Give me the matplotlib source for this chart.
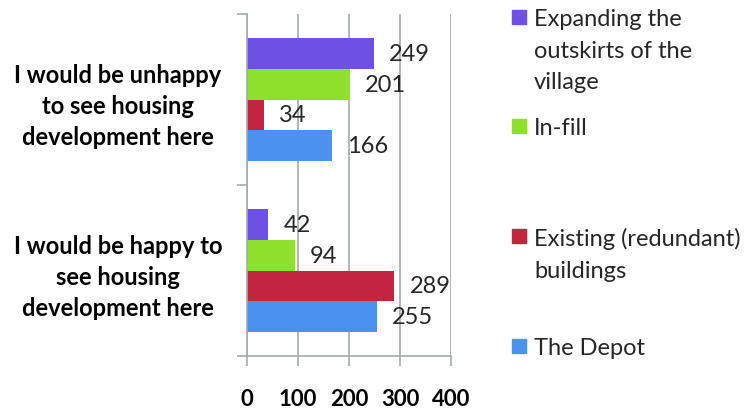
import matplotlib.pyplot as plt
from matplotlib.patches import Rectangle

categories = ["I would be happy to\nsee housing\ndevelopment here",
              "I would be unhappy\nto see housing\ndevelopment here"]
series = ["The Depot", "Existing (redundant)\nbuildings", "In-fill",
          "Expanding the\noutskirts of the\nvillage"]
depot = [255, 166]
existing = [289, 34]
infill = [94, 201]
outskirts = [42, 249]
colors = ["#4A92EE", "#C2253E", "#8EE02A", "#6F50E5"]

plt.rcParams['font.family'] = ['Lato', 'DejaVu Sans']

fig = plt.figure(figsize=(7.44, 4.10), dpi=100)
ax = fig.add_axes([247/744, 1-357/410, 204/744, 342/410])

h = 0.18
offsets = [-1.5*h, -0.5*h, 0.5*h, 1.5*h]
for vals, col, off in zip([depot, existing, infill, outskirts], colors, offsets):
    ys = [i + off for i in range(len(categories))]
    ax.barh(ys, vals, height=h, color=col, edgecolor='none')
    for y, v in zip(ys, vals):
        ax.annotate(str(v), xy=(v, y), xytext=(15, 0), textcoords='offset pixels',
                    ha='left', va='center', fontsize=17, color='#262626')

ax.set_xlim(0, 400)
ax.set_ylim(-0.5, 1.5)
ax.set_xticks([0, 100, 200, 300, 400])
ax.set_xticklabels(['0', '100', '200', '300', '400'], fontweight='bold')
ax.set_yticks([0, 1])
ax.set_yticklabels(categories, fontweight='bold', ha='center', linespacing=1.42)
ax.set_yticks([-0.5, 0.5, 1.5], minor=True)

grid_col = '#A3ABAB'
ax.grid(axis='x', color=grid_col, linewidth=1.2)
ax.set_axisbelow(True)
for s in ['top', 'right']:
    ax.spines[s].set_visible(False)
for s in ['left', 'bottom']:
    ax.spines[s].set_color(grid_col)
    ax.spines[s].set_linewidth(1.2)
ax.tick_params(axis='x', length=7, width=1.2, color=grid_col, pad=16,
               labelsize=16, labelcolor='black')
ax.tick_params(axis='y', which='major', length=0, pad=93, labelsize=17,
               labelcolor='black')
ax.tick_params(axis='y', which='minor', length=7, width=1.2, color=grid_col)

# legend, top entry first; y values are the first-line tops in pixels
tops = [10, 119, 229, 339]
for lab, col, t in zip(series[::-1], colors[::-1], tops):
    fig.patches.append(Rectangle((512/744, 1-(t+15)/410), 14/744, 14/410,
                                 transform=fig.transFigure, color=col))
    fig.text(534/744, 1-(t-1)/410, lab, ha='left', va='top', fontsize=17,
             color='#262626', linespacing=1.62)

fig.savefig("out.png", dpi=100)
